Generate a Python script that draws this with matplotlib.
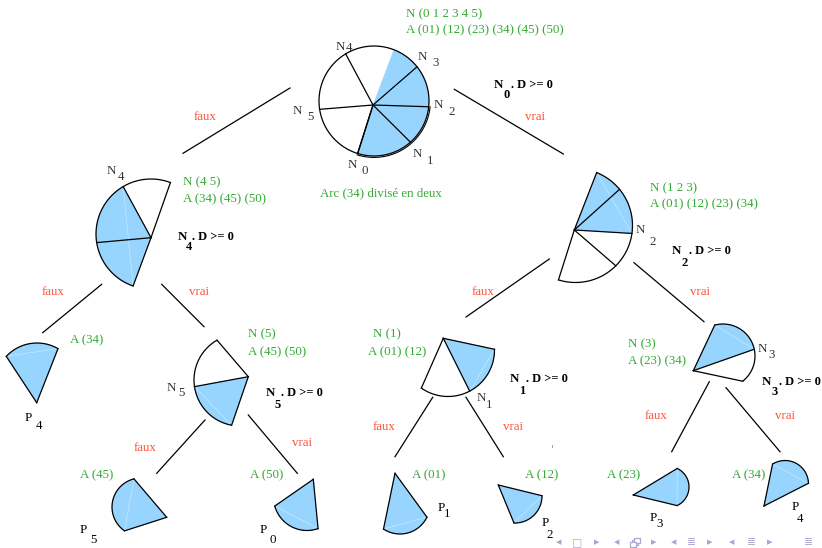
import numpy as np
import matplotlib
matplotlib.use("Agg")
import matplotlib.pyplot as plt
from matplotlib.patches import Polygon, Rectangle

# ---------------- data ----------------
# arc boundary angles (degrees) of each partition piece and shading flags per piece
root_angles = [252.7, 311.5, 354.0, 398.5, 428.8, 481.0, 548.7, 612.7]
root_fill = [1, 1, 1, 1, 0, 0, 0]
root_spoke = [1, 1, 1, 1, 0, 1, 1, 1]
n4_angles = [69.3, 120.4, 189.0, 251.0]
n4_fill = [0, 1, 1]
n2_angles = [252.6, 315.0, 352.0, 399.4, 428.2]
n2_fill = [0, 0, 1, 1]
n5_angles = [120.0, 188.3, 259.5]
n5_fill = [0, 1]
n1_angles = [235.0, 297.8, 360.9]
n1_fill = [0, 1]
n3_angles = [308.0, 372.2, 465.0]
n3_fill = [0, 1]
leaf_names = ["P4a", "P5", "P0", "P1", "P2", "P3", "P4b"]
leaf_angles = [[60, 137], [104, 235.4], [195.7, 289.3], [236.6, 334],
               [267.8, 360.6], [294.8, 424.8], [1.8, 122]]

green_texts = ["N (0 1 2 3 4 5)", "A (01) (12) (23) (34) (45) (50)",
               "Arc (34) divisé en deux", "N (4 5)", "A (34) (45) (50)",
               "N (1 2 3)", "A (01) (12) (23) (34)", "A (34)", "N (5)",
               "A (45) (50)", "N (1)", "A (01) (12)", "N (3)", "A (23) (34)",
               "A (45)", "A (50)", "A (01)", "A (12)", "A (23)", "A (34)"]
branch_texts = ["faux", "vrai"] * 6
cond_subs = ["0", "4", "2", "5", "1", "3"]
node_subs = ["4", "3", "2", "1", "0", "5", "4", "2", "5", "1", "3"]
leaf_subs = ["4", "5", "0", "1", "2", "3", "4"]

# ---------------- layout ----------------
green_pos = [(406, 14), (406, 30), (320, 193), (183, 182), (183, 199),
             (650, 188), (650, 204), (70, 340), (248, 334), (248, 352),
             (373, 334), (368, 352), (628, 344), (628, 361),
             (80, 475), (250, 475), (411.7, 475), (525, 475), (606.7, 475), (731.7, 475)]
branch_pos = [(205, 117), (535, 117), (53, 292), (199, 292), (483, 292), (700, 292),
              (145, 448), (302, 443), (384, 427), (513, 427), (656, 416), (785, 416)]
cond_pos = [((498, 85), (506.5, 95.5), 510.5), ((182.3, 237.3), (189, 247.5), 192),
            ((676.7, 250.7), (685, 263), 688.8), ((270, 393.3), (277.5, 404.5), 280.5),
            ((514.3, 379.3), (522, 390.5), 525.5), ((766.7, 381.7), (774.5, 392), 778.8)]
node_pos = [((340, 47), (349, 48)), ((422.7, 57), (436, 63)), ((438.5, 105), (451.5, 112)),
            ((417, 154), (430, 161)), ((352, 165), (365, 171)), ((297.5, 111.5), (310, 117)),
            ((111, 171), (121, 177)), ((640, 230), (653, 242)), ((171.5, 388), (181, 393)),
            ((481.5, 398), (489, 405)), ((762.5, 349), (772, 355))]
leaf_lab_pos = [((28.3, 418), (39.3, 426)), ((83.3, 530), (93.3, 540)),
                ((263.3, 530), (272.7, 540)), ((441, 508), (447, 514)),
                ((545, 523), (550, 535)), ((653.5, 518), (659.5, 524)),
                ((795, 507), (800, 519))]
leaf_geom = [((37, 385), 42, (36.7, 402.7)), ((141, 507), 29, (166.7, 517.3)),
             ((307, 497), 33.5, (313.3, 479.3)), ((400, 504), 30, (395, 473.3)),
             ((515, 496), 27, (498.3, 485)), ((668.5, 487), 20.5, (633.3, 495)),
             ((785, 484), 23.5, (764, 506))]
edges = [((290, 88), (183, 153.3)), ((454.3, 89.3), (563.3, 154)),
         ((101.7, 284.3), (42.7, 332.7)), ((161.7, 284.3), (204, 326.7)),
         ((549.3, 259), (466, 317)), ((634, 262.7), (704, 321.7)),
         ((205, 420), (156.7, 473.3)), ((248.3, 415), (297.3, 473.3)),
         ((432.7, 397.3), (395, 456.7)), ((466, 397.3), (503.3, 456.7)),
         ((709.3, 381.7), (671.7, 451.7)), ((726, 387.7), (780, 451.7))]

BLUE = "#97d5ff"
GREEN = "#33aa33"
RED = "#ff5038"
GRAY = "#333333"
NAVC = "#a8a8d0"
LW = 0.9
SERIF = ["Liberation Serif", "DejaVu Serif"]

fig = plt.figure(figsize=(8.22, 5.48), dpi=100)
ax = fig.add_axes([0, 0, 1, 1])
ax.set_xlim(0, 822)
ax.set_ylim(548, 0)
ax.axis("off")


def pt(c, R, a):
    t = np.radians(a)
    return (c[0] + R * np.cos(t), c[1] - R * np.sin(t))


def arc(c, R, a0, a1, n=60):
    t = np.radians(np.linspace(a0, a1, n))
    return np.column_stack([c[0] + R * np.cos(t), c[1] - R * np.sin(t)])


def piece(c, R, apex, angles, fills, spokes=None, seam=True, double=None):
    if spokes is None:
        spokes = [1] * len(angles)
    for i, f in enumerate(fills):
        if f:
            poly = np.vstack([[apex], arc(c, R, angles[i], angles[i + 1])])
            ax.add_patch(Polygon(poly, closed=True, facecolor=BLUE, edgecolor=BLUE,
                                 lw=0.3, zorder=1))
    if seam:
        idx = [i for i, f in enumerate(fills) if f]
        if idx:
            p0 = pt(c, R, angles[idx[0]])
            p1 = pt(c, R, angles[idx[-1] + 1])
            ax.plot([p0[0], p1[0]], [p0[1], p1[1]], color="white", lw=0.5,
                    alpha=0.45, zorder=2)
    a = arc(c, R, angles[0], angles[-1], 200)
    ax.plot(a[:, 0], a[:, 1], color="black", lw=LW, zorder=3, solid_capstyle="round")
    if double is not None:
        b = arc(c, R + 1.4, double[0], double[1], 120)
        ax.plot(b[:, 0], b[:, 1], color="black", lw=0.8, zorder=3)
    for ang, s in zip(angles, spokes):
        if s:
            p = pt(c, R, ang)
            ax.plot([apex[0], p[0]], [apex[1], p[1]], color="black", lw=LW, zorder=3)


# root and internal nodes
piece((374, 101), 55, (373, 105), root_angles, root_fill, root_spoke, seam=False,
      double=(root_angles[0], root_angles[2]))
piece((151, 234), 55, (151, 237.7), n4_angles, n4_fill)
piece((575.5, 225.5), 57, (574.3, 230), n2_angles, n2_fill)
piece((240, 380), 46, (248.3, 376.7), n5_angles, n5_fill)
piece((448, 350), 46.5, (443.3, 338.3), n1_angles, n1_fill)
piece((723, 356), 32, (693.3, 370.7), n3_angles, n3_fill)

# leaves
for (c, R, apex), angs in zip(leaf_geom, leaf_angles):
    piece(c, R, apex, angs, [1])

# tree edges
for (p, q) in edges:
    ax.plot([p[0], q[0]], [p[1], q[1]], color="black", lw=LW, zorder=3)

# texts
FS = 9.3
for s, (x, y) in zip(green_texts, green_pos):
    ax.text(x, y, s, color=GREEN, fontsize=FS, family=SERIF, ha="left", va="center")
for s, (x, y) in zip(branch_texts, branch_pos):
    ax.text(x, y, s, color=RED, fontsize=FS, family=SERIF, ha="center", va="center")
for sub, (npos, spos, rx) in zip(cond_subs, cond_pos):
    ax.text(npos[0], npos[1], "N", color="black", fontsize=9.3, family=SERIF,
            weight="bold", ha="center", va="center")
    ax.text(spos[0], spos[1], sub, color="black", fontsize=9.0, family=SERIF,
            weight="bold", ha="center", va="center")
    ax.text(rx, npos[1], ". D >= 0", color="black", fontsize=9, family=SERIF,
            weight="bold", ha="left", va="center")
for sub, (npos, spos) in zip(node_subs, node_pos):
    ax.text(npos[0], npos[1], "N", color=GRAY, fontsize=FS, family=SERIF,
            ha="center", va="center")
    ax.text(spos[0], spos[1], sub, color=GRAY, fontsize=FS, family=SERIF,
            ha="center", va="center")
for sub, (ppos, spos) in zip(leaf_subs, leaf_lab_pos):
    ax.text(ppos[0], ppos[1], "P", color="black", fontsize=FS, family=SERIF,
            ha="center", va="center")
    ax.text(spos[0], spos[1], sub, color="black", fontsize=FS, family=SERIF,
            ha="center", va="center")

# tiny stray mark
ax.plot([552, 552], [445, 447], color="#888888", lw=0.6)

# beamer navigation symbols (the stacked-frames icon has no glyph in the installed fonts)
NAVY = 542.0
nav = ["◂", "□", "▸", "◂", None, "▸", "◂", "≣", "▸", "◂", "≣", "▸", "≣"]
nav_x = [558.3, 576.7, 596.7, 616.7, 635, 653.3, 673.3, 691.7, 710, 731.7, 751.7, 770, 808.3]
for s, x in zip(nav, nav_x):
    if s is None:
        for dx, dy in [(-3.5, -2.5), (-1.5, -4.5)]:
            ax.add_patch(Rectangle((x + dx, NAVY + dy), 6, 5, facecolor="white",
                                   edgecolor=NAVC, lw=0.9, zorder=4))
        ax.add_patch(Rectangle((x - 5.5, NAVY - 0.5), 6, 5, facecolor="white",
                               edgecolor=NAVC, lw=0.9, zorder=5))
    else:
        ax.text(x, NAVY, s, color=NAVC, fontsize=7.8,
                family=["DejaVu Sans", "Noto Sans"], ha="center", va="center")

fig.savefig("out.png", dpi=100)
